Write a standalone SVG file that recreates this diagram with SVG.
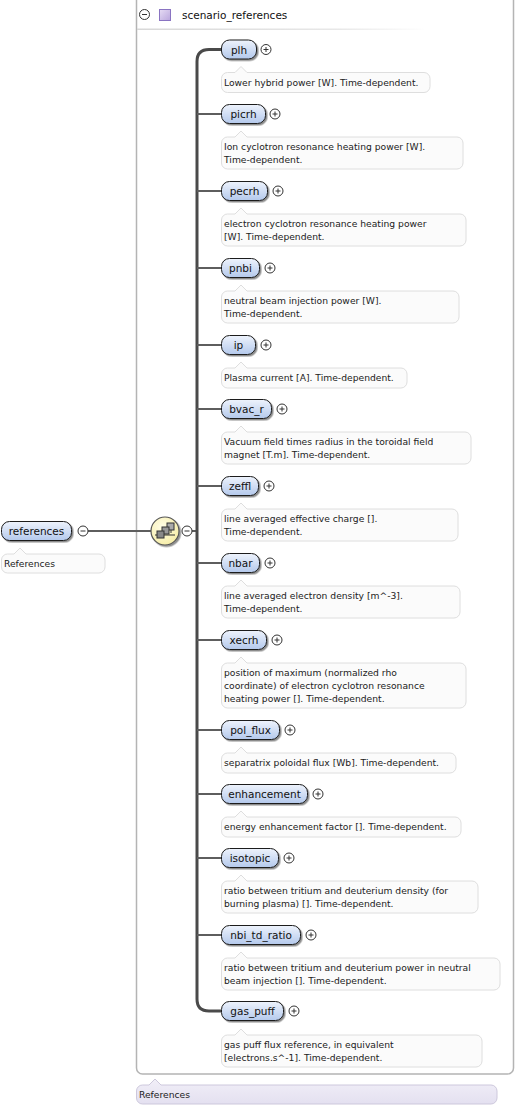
<svg xmlns="http://www.w3.org/2000/svg" width="516" height="1108" viewBox="0 0 516 1108">
<defs>
<linearGradient id="pill" x1="0" y1="0" x2="0" y2="1">
<stop offset="0" stop-color="#eef3fc"/>
<stop offset="1" stop-color="#b4c9ec"/>
</linearGradient>
<linearGradient id="sep" x1="0" y1="0" x2="1" y2="0">
<stop offset="0" stop-color="#d8d8d8"/>
<stop offset="0.7" stop-color="#e8e8e8"/>
<stop offset="1" stop-color="#ffffff"/>
</linearGradient>
<linearGradient id="lav" x1="0" y1="0" x2="0" y2="1">
<stop offset="0" stop-color="#f1eff8"/>
<stop offset="1" stop-color="#e4e0f0"/>
</linearGradient>
<linearGradient id="sq" x1="0" y1="0" x2="1" y2="1">
<stop offset="0" stop-color="#e6dcf4"/>
<stop offset="1" stop-color="#b9a6dd"/>
</linearGradient>
<radialGradient id="seqg" cx="0.4" cy="0.35" r="0.7">
<stop offset="0" stop-color="#fffde6"/>
<stop offset="1" stop-color="#f6eda6"/>
</radialGradient>
<filter id="sh" x="-20%" y="-30%" width="150%" height="170%">
<feDropShadow dx="1.5" dy="1.5" stdDeviation="0.6" flood-color="#000" flood-opacity="0.45"/>
</filter>
<g id="plus">
<circle r="5" fill="#fff" stroke="#333" stroke-width="1"/>
<path d="M-2.5 0H2.5M0 -2.5V2.5" stroke="#333" stroke-width="1"/>
</g>
<g id="minus">
<circle r="5" fill="#fff" stroke="#333" stroke-width="1"/>
<path d="M-2.5 0H2.5" stroke="#333" stroke-width="1"/>
</g>
</defs>
<style>
.pill{fill:url(#pill);stroke:#1c1c1c;stroke-width:1;filter:url(#sh)}
.nl{font-family:"DejaVu Sans",Verdana,sans-serif;font-size:10.5px;fill:#111;text-anchor:middle}
.doc{fill:#fbfbfb;stroke:#dedede;stroke-width:1}
.dt{font-family:"DejaVu Sans",Verdana,sans-serif;font-size:9.2px;fill:#222}
.br{fill:none;stroke:#5e5e5e;stroke-width:2}
.hd{font-family:"DejaVu Sans",Verdana,sans-serif;font-size:10.5px;fill:#111}
</style>

<g id="container">
<rect x="136.5" y="-6" width="377" height="1080" rx="6" fill="#fff" stroke="#b4b4b4" stroke-width="1.5"/>
<rect x="137" y="28.5" width="290" height="1.5" fill="url(#sep)"/>
<use href="#minus" x="144.5" y="14.5"/>
<rect x="159.5" y="9.5" width="11" height="11" fill="url(#sq)" stroke="#8a74c2" stroke-width="1"/>
<text class="hd" x="182" y="18.5">scenario_references</text>
</g>

<g id="connectors">
<path d="M88 531H151" class="br"/>
<path d="M192 531H197" class="br"/>
<path d="M221 49.5H209Q197 49.5 197 61.5V999Q197 1011 209 1011H221" fill="none" stroke="#4a4a4a" stroke-width="3"/>
<path class="br" d="M197 114H221M197 191H221M197 268H221M197 345H221M197 409H221M197 486H221M197 563H221M197 640H221M197 730H221M197 794H221M197 858H221M197 935H221"/>
</g>

<g id="node-references">
<rect class="pill" x="1.5" y="521.5" width="70" height="19" rx="8"/>
<text class="nl" x="36.5" y="535">references</text>
<use href="#minus" x="83" y="531"/>
<path class="doc" d="M1.5 560a6 6 0 0 1 6-6H14l6-6l6 6H99a6 6 0 0 1 6 6v7a6 6 0 0 1-6 6H7.5a6 6 0 0 1-6-6z"/>
<text class="dt" x="4" y="567">References</text>
</g>

<g id="sequence">
<circle cx="165" cy="531" r="14" fill="url(#seqg)" stroke="#555" stroke-width="1.2" filter="url(#sh)"/>
<path d="M155 535H175" stroke="#333" stroke-width="1"/>
<path d="M171 527V533" stroke="#333" stroke-width="1"/>
<rect x="167" y="523" width="7" height="7" fill="#aaa" stroke="#333" stroke-width="1"/>
<rect x="162" y="527" width="7" height="7" fill="#999" stroke="#333" stroke-width="1"/>
<rect x="157" y="531" width="7" height="7" fill="#888" stroke="#333" stroke-width="1"/>
<use href="#minus" x="187" y="531"/>
</g>

<g id="node-plh">
<rect class="pill" x="221.5" y="40" width="35" height="19" rx="8"/>
<text class="nl" x="239" y="53.5">plh</text>
<use href="#plus" x="266" y="49.5"/>
<path class="doc" d="M221.5 78.5a6 6 0 0 1 6-6H235l6-6l6 6H424a6 6 0 0 1 6 6v8a6 6 0 0 1-6 6H227.5a6 6 0 0 1-6-6z"/>
<text class="dt" x="224" y="85.5">Lower hybrid power [W]. Time-dependent.</text>
</g>

<g id="node-picrh">
<rect class="pill" x="221.5" y="104.5" width="44" height="19" rx="8"/>
<text class="nl" x="243.5" y="118">picrh</text>
<use href="#plus" x="275" y="114"/>
<path class="doc" d="M221.5 143a6 6 0 0 1 6-6H235l6-6l6 6H457a6 6 0 0 1 6 6v20a6 6 0 0 1-6 6H227.5a6 6 0 0 1-6-6z"/>
<text class="dt" x="224" y="150">Ion cyclotron resonance heating power [W].</text>
<text class="dt" x="224" y="163">Time-dependent.</text>
</g>

<g id="node-pecrh">
<rect class="pill" x="221.5" y="181.5" width="46" height="19" rx="8"/>
<text class="nl" x="244.5" y="195">pecrh</text>
<use href="#plus" x="278" y="191"/>
<path class="doc" d="M221.5 220a6 6 0 0 1 6-6H235l6-6l6 6H460a6 6 0 0 1 6 6v20a6 6 0 0 1-6 6H227.5a6 6 0 0 1-6-6z"/>
<text class="dt" x="224" y="227">electron cyclotron resonance heating power</text>
<text class="dt" x="224" y="240">[W]. Time-dependent.</text>
</g>

<g id="node-pnbi">
<rect class="pill" x="221.5" y="258.5" width="38" height="19" rx="8"/>
<text class="nl" x="240.5" y="272">pnbi</text>
<use href="#plus" x="270" y="268"/>
<path class="doc" d="M221.5 297a6 6 0 0 1 6-6H235l6-6l6 6H453a6 6 0 0 1 6 6v20a6 6 0 0 1-6 6H227.5a6 6 0 0 1-6-6z"/>
<text class="dt" x="224" y="304">neutral beam injection power [W].</text>
<text class="dt" x="224" y="317">Time-dependent.</text>
</g>

<g id="node-ip">
<rect class="pill" x="221.5" y="335.5" width="34" height="19" rx="8"/>
<text class="nl" x="238.5" y="349">ip</text>
<use href="#plus" x="266" y="345"/>
<path class="doc" d="M221.5 374a6 6 0 0 1 6-6H235l6-6l6 6H401a6 6 0 0 1 6 6v8a6 6 0 0 1-6 6H227.5a6 6 0 0 1-6-6z"/>
<text class="dt" x="224" y="381">Plasma current [A]. Time-dependent.</text>
</g>

<g id="node-bvac_r">
<rect class="pill" x="221.5" y="399.5" width="50" height="19" rx="8"/>
<text class="nl" x="246.5" y="413">bvac_r</text>
<use href="#plus" x="282" y="409"/>
<path class="doc" d="M221.5 438a6 6 0 0 1 6-6H235l6-6l6 6H465a6 6 0 0 1 6 6v20a6 6 0 0 1-6 6H227.5a6 6 0 0 1-6-6z"/>
<text class="dt" x="224" y="445">Vacuum field times radius in the toroidal field</text>
<text class="dt" x="224" y="458">magnet [T.m]. Time-dependent.</text>
</g>

<g id="node-zeffl">
<rect class="pill" x="221.5" y="476.5" width="37" height="19" rx="8"/>
<text class="nl" x="240" y="490">zeffl</text>
<use href="#plus" x="269" y="486"/>
<path class="doc" d="M221.5 515a6 6 0 0 1 6-6H235l6-6l6 6H452a6 6 0 0 1 6 6v20a6 6 0 0 1-6 6H227.5a6 6 0 0 1-6-6z"/>
<text class="dt" x="224" y="522">line averaged effective charge [].</text>
<text class="dt" x="224" y="535">Time-dependent.</text>
</g>

<g id="node-nbar">
<rect class="pill" x="221.5" y="553.5" width="38" height="19" rx="8"/>
<text class="nl" x="240.5" y="567">nbar</text>
<use href="#plus" x="270" y="563"/>
<path class="doc" d="M221.5 592a6 6 0 0 1 6-6H235l6-6l6 6H454a6 6 0 0 1 6 6v20a6 6 0 0 1-6 6H227.5a6 6 0 0 1-6-6z"/>
<text class="dt" x="224" y="599">line averaged electron density [m^-3].</text>
<text class="dt" x="224" y="612">Time-dependent.</text>
</g>

<g id="node-xecrh">
<rect class="pill" x="221.5" y="630.5" width="45" height="19" rx="8"/>
<text class="nl" x="244" y="644">xecrh</text>
<use href="#plus" x="277" y="640"/>
<path class="doc" d="M221.5 669a6 6 0 0 1 6-6H235l6-6l6 6H460a6 6 0 0 1 6 6v33a6 6 0 0 1-6 6H227.5a6 6 0 0 1-6-6z"/>
<text class="dt" x="224" y="676">position of maximum (normalized rho</text>
<text class="dt" x="224" y="689">coordinate) of electron cyclotron resonance</text>
<text class="dt" x="224" y="702">heating power []. Time-dependent.</text>
</g>

<g id="node-pol_flux">
<rect class="pill" x="221.5" y="720.5" width="58" height="19" rx="8"/>
<text class="nl" x="250.5" y="734">pol_flux</text>
<use href="#plus" x="290" y="730"/>
<path class="doc" d="M221.5 759a6 6 0 0 1 6-6H235l6-6l6 6H450a6 6 0 0 1 6 6v8a6 6 0 0 1-6 6H227.5a6 6 0 0 1-6-6z"/>
<text class="dt" x="224" y="766">separatrix poloidal flux [Wb]. Time-dependent.</text>
</g>

<g id="node-enhancement">
<rect class="pill" x="221.5" y="784.5" width="86" height="19" rx="8"/>
<text class="nl" x="264.5" y="798">enhancement</text>
<use href="#plus" x="318" y="794"/>
<path class="doc" d="M221.5 823a6 6 0 0 1 6-6H235l6-6l6 6H455a6 6 0 0 1 6 6v8a6 6 0 0 1-6 6H227.5a6 6 0 0 1-6-6z"/>
<text class="dt" x="224" y="830">energy enhancement factor []. Time-dependent.</text>
</g>

<g id="node-isotopic">
<rect class="pill" x="221.5" y="848.5" width="57" height="19" rx="8"/>
<text class="nl" x="250" y="862">isotopic</text>
<use href="#plus" x="289" y="858"/>
<path class="doc" d="M221.5 887a6 6 0 0 1 6-6H235l6-6l6 6H472a6 6 0 0 1 6 6v20a6 6 0 0 1-6 6H227.5a6 6 0 0 1-6-6z"/>
<text class="dt" x="224" y="894">ratio between tritium and deuterium density (for</text>
<text class="dt" x="224" y="907">burning plasma) []. Time-dependent.</text>
</g>

<g id="node-nbi_td_ratio">
<rect class="pill" x="221.5" y="925.5" width="79" height="19" rx="8"/>
<text class="nl" x="261" y="939">nbi_td_ratio</text>
<use href="#plus" x="311" y="935"/>
<path class="doc" d="M221.5 964a6 6 0 0 1 6-6H235l6-6l6 6H494a6 6 0 0 1 6 6v20a6 6 0 0 1-6 6H227.5a6 6 0 0 1-6-6z"/>
<text class="dt" x="224" y="971">ratio between tritium and deuterium power in neutral</text>
<text class="dt" x="224" y="984">beam injection []. Time-dependent.</text>
</g>

<g id="node-gas_puff">
<rect class="pill" x="221.5" y="1001.5" width="62" height="19" rx="8"/>
<text class="nl" x="252.5" y="1015">gas_puff</text>
<use href="#plus" x="294" y="1011"/>
<path class="doc" d="M221.5 1041a6 6 0 0 1 6-6H235l6-6l6 6H476a6 6 0 0 1 6 6v20a6 6 0 0 1-6 6H227.5a6 6 0 0 1-6-6z"/>
<text class="dt" x="224" y="1048">gas puff flux reference, in equivalent</text>
<text class="dt" x="224" y="1061">[electrons.s^-1]. Time-dependent.</text>
</g>

<g id="doc-scenario_references">
<path d="M136.5 1091a6 6 0 0 1 6-6H149l6-6l6 6H491a6 6 0 0 1 6 6v7a6 6 0 0 1-6 6H142.5a6 6 0 0 1-6-6z" fill="url(#lav)" stroke="#cdc8dc" stroke-width="1"/>
<text class="dt" x="139" y="1098">References</text>
</g>
</svg>
